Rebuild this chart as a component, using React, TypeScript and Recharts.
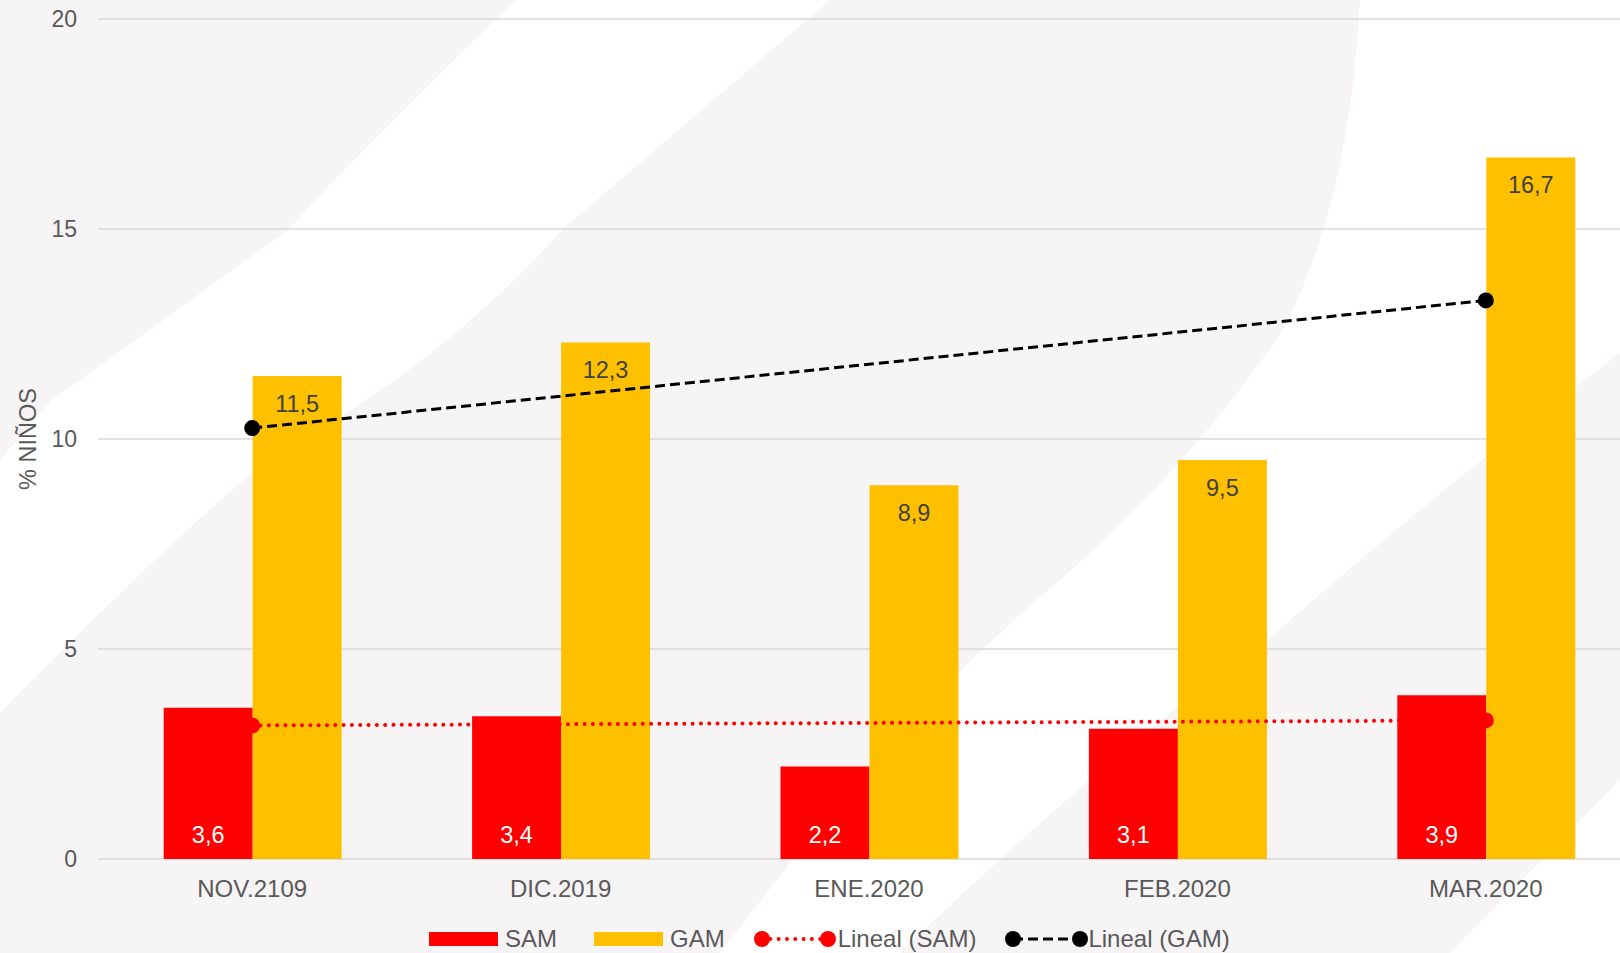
import { Bar, CartesianGrid, ComposedChart, LabelList, Legend, Line, XAxis, YAxis } from 'recharts'

const months = ['NOV.2109', 'DIC.2019', 'ENE.2020', 'FEB.2020', 'MAR.2020']
const samValues = [3.6, 3.4, 2.2, 3.1, 3.9]
const gamValues = [11.5, 12.3, 8.9, 9.5, 16.7]
// linear trendlines (Excel): only the two end points are drawn
const samTrend = [3.18, null, null, null, 3.3]
const gamTrend = [10.26, null, null, null, 13.3]
const yTicks = [0, 5, 10, 15, 20]

const data = months.map((month, i) => ({
  month,
  SAM: samValues[i],
  GAM: gamValues[i],
  samTrend: samTrend[i],
  gamTrend: gamTrend[i],
}))

const FONT = '"Liberation Sans", Arial, sans-serif'
const RED = '#FF0000'
const YELLOW = '#FFC000'
const TEXT = '#595959'
const TINT = '#F7F4F5'

const fmt = (v: unknown) => String(v).replace('.', ',')

function endDot(color: string) {
  return (p: any) =>
    p.value == null || p.cy == null ? (
      <g key={`d${p.index}`} />
    ) : (
      <circle key={`d${p.index}`} cx={p.cx} cy={p.cy} r={8} fill={color} />
    )
}

// faint watermark behind the plot
function Backdrop() {
  return (
    <svg width={1620} height={953} style={{ position: 'absolute', left: 0, top: 0 }}>
      <rect width={1620} height={953} fill="#FFFFFF" />
      <path d="M0,0 L516,0 Q360,150 289,229 Q150,330 52,400 L0,460 Z" fill={TINT} />
      <path
        d="M830,0 L1360,0 Q1350,200 1283,330 Q1180,480 1040,597 Q900,720 800,850 L720,953 L0,953 L0,713 Q150,560 248,476 Q340,420 413,367 Q500,300 563,229 Z"
        fill={TINT}
      />
      <path d="M1620,353 Q1450,480 1267,640 Q1100,760 900,953 L1450,953 L1620,780 Z" fill={TINT} />
    </svg>
  )
}

function LegendContent() {
  return (
    <div
      style={{
        display: 'flex',
        alignItems: 'center',
        paddingLeft: 429,
        height: 30,
        fontSize: 24,
        color: TEXT,
        fontFamily: FONT,
        whiteSpace: 'nowrap',
      }}
    >
      <svg width={69} height={14}>
        <rect width={69} height={14} fill={RED} />
      </svg>
      <span style={{ marginLeft: 7, marginRight: 37 }}>SAM</span>
      <svg width={69} height={14}>
        <rect width={69} height={14} fill={YELLOW} />
      </svg>
      <span style={{ marginLeft: 7, marginRight: 29 }}>GAM</span>
      <svg width={82} height={18}>
        <line x1={8} x2={74} y1={9} y2={9} stroke={RED} strokeWidth={4} strokeDasharray="0.01 8.3" strokeLinecap="round" />
        <circle cx={8} cy={9} r={8} fill={RED} />
        <circle cx={74} cy={9} r={8} fill={RED} />
      </svg>
      <span style={{ marginLeft: 2, marginRight: 29 }}>Lineal (SAM)</span>
      <svg width={83} height={18}>
        <line x1={8} x2={75} y1={9} y2={9} stroke="#000" strokeWidth={3} strokeDasharray="10 5" />
        <circle cx={8} cy={9} r={8} fill="#000" />
        <circle cx={75} cy={9} r={8} fill="#000" />
      </svg>
      <span>Lineal (GAM)</span>
    </div>
  )
}

function YLabel() {
  return (
    <text
      transform="translate(36,439) rotate(-90)"
      textAnchor="middle"
      fontSize={23.5}
      fill={TEXT}
      fontFamily={FONT}
    >
      % NIÑOS
    </text>
  )
}

export default function App() {
  return (
    <div style={{ position: 'absolute', left: 0, top: 0, width: 1620, height: 953, overflow: 'hidden' }}>
      <Backdrop />
      <div style={{ position: 'absolute', left: 0, top: 0 }}>
        <ComposedChart
          width={1640}
          height={953}
          data={data}
          margin={{ top: 19, right: 0, bottom: 0, left: 0 }}
          barCategoryGap="21.3%"
          barGap={0}
          style={{ fontFamily: FONT }}
        >
          <CartesianGrid vertical={false} stroke="#D9D9D9" strokeWidth={1.5} />
          <XAxis
            dataKey="month"
            height={94}
            axisLine={false}
            tickLine={false}
            tickSize={0}
            tickMargin={21}
            tick={{ fontSize: 24, fill: TEXT }}
          />
          <YAxis
            width={98}
            domain={[0, 20]}
            ticks={yTicks}
            axisLine={false}
            tickLine={false}
            tickSize={0}
            tickMargin={21}
            tick={{ fontSize: 23, fill: TEXT }}
            label={{ content: () => <YLabel /> }}
          />
          <Legend
            layout="horizontal"
            verticalAlign="middle"
            align="center"
            content={() => <LegendContent />}
            wrapperStyle={{ top: 924, left: 0, width: 1620, height: 30 }}
          />
          <Bar dataKey="SAM" name="SAM" fill={RED} isAnimationActive={false}>
            <LabelList
              dataKey="SAM"
              position="insideBottom"
              offset={16}
              formatter={fmt}
              fill="#FFFFFF"
              fontSize={23.5}
            />
          </Bar>
          <Bar dataKey="GAM" name="GAM" fill={YELLOW} isAnimationActive={false}>
            <LabelList
              dataKey="GAM"
              position="insideTop"
              offset={19}
              formatter={fmt}
              fill="#404040"
              fontSize={23.5}
            />
          </Bar>
          <Line
            dataKey="samTrend"
            name="Lineal (SAM)"
            stroke={RED}
            strokeWidth={4}
            strokeDasharray="0.01 8.3"
            strokeLinecap="round"
            connectNulls
            dot={endDot(RED)}
            activeDot={false}
            isAnimationActive={false}
          />
          <Line
            dataKey="gamTrend"
            name="Lineal (GAM)"
            stroke="#000000"
            strokeWidth={3}
            strokeDasharray="10 5"
            connectNulls
            dot={endDot('#000000')}
            activeDot={false}
            isAnimationActive={false}
          />
        </ComposedChart>
      </div>
    </div>
  )
}
